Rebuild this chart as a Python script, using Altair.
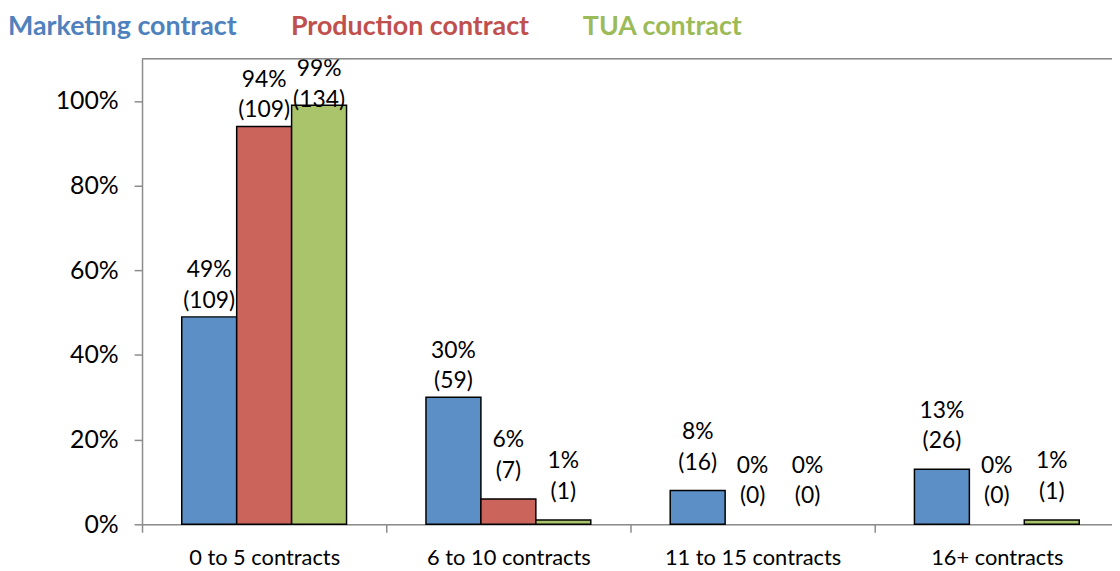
import altair as alt
import pandas as pd

categories = ["0 to 5 contracts", "6 to 10 contracts", "11 to 15 contracts", "16+ contracts"]
series = ["Marketing contract", "Production contract", "TUA contract"]
marketing_pct = [49, 30, 8, 13]
marketing_n = [109, 59, 16, 26]
production_pct = [94, 6, 0, 0]
production_n = [109, 7, 0, 0]
tua_pct = [99, 1, 0, 1]
tua_n = [134, 1, 0, 1]
y_ticks = [0, 0.2, 0.4, 0.6, 0.8, 1.0]

bar_colors = ["#5B8FC6", "#CB655C", "#AAC46C"]
legend_colors = ["#4F81BD", "#C0504D", "#9BBB59"]

rows = []
for s, pcts, ns in zip(series, [marketing_pct, production_pct, tua_pct],
                       [marketing_n, production_n, tua_n]):
    for c, p, n in zip(categories, pcts, ns):
        rows.append({"category": c, "series": s, "pct": p / 100, "n": n})
df = pd.DataFrame(rows)

FONT = "Lato"
AXIS_GRAY = "#8c8c8c"
PLOT_W = 984  # full category extent (right part falls beyond the window)
LINE_H = 31

label_color_expr = (
    f"datum.label == '{series[0]}' ? '{legend_colors[0]}' : "
    f"datum.label == '{series[1]}' ? '{legend_colors[1]}' : '{legend_colors[2]}'"
)

x_enc = alt.X(
    "category:N",
    sort=categories,
    title=None,
    scale=alt.Scale(range=[0, PLOT_W], paddingInner=0, paddingOuter=0),
    axis=alt.Axis(
        labelAngle=0, tickBand="extent", domainColor=AXIS_GRAY, tickColor=AXIS_GRAY,
        domainWidth=1.5, tickWidth=1.5, tickSize=8, labelPadding=15,
        labelFontSize=22, labelColor="black", labelFont=FONT,
    ),
)
xoff_enc = alt.XOffset("series:N", sort=series,
                       scale=alt.Scale(paddingOuter=0.723, paddingInner=0))
y_enc = alt.Y(
    "pct:Q",
    title=None,
    scale=alt.Scale(domain=[0, 1.1], nice=False),
    axis=alt.Axis(
        values=y_ticks, format=".0%", grid=False, domainColor=AXIS_GRAY,
        tickColor=AXIS_GRAY, domainWidth=1.5, tickWidth=1.5, tickSize=8,
        labelPadding=16, labelFontSize=25, labelColor="black", labelFont=FONT,
    ),
)

base = alt.Chart(df)

bars = base.transform_filter("datum.pct > 0").mark_bar(
    stroke="black", strokeWidth=1.5
).encode(
    x=x_enc,
    xOffset=xoff_enc,
    y=y_enc,
    color=alt.Color(
        "series:N",
        sort=series,
        scale=alt.Scale(domain=series, range=bar_colors),
        legend=alt.Legend(
            title=None, orient="none", direction="horizontal",
            legendX=-162, legendY=-46, padding=0,
            symbolSize=0, symbolStrokeWidth=0, symbolOpacity=0,
            labelOffset=0, columnPadding=27,
            labelFontSize=27, labelFontWeight="bold", labelFont=FONT,
            labelColor={"expr": label_color_expr}, labelLimit=0,
        ),
    ),
)


def value_labels(filter_expr, gap):
    return base.transform_filter(filter_expr).transform_calculate(
        label="[format(datum.pct, '.0%'), '(' + datum.n + ')']",
        label_y="min(datum.pct, 0.965)",
    ).mark_text(
        baseline="bottom", fontSize=23, lineHeight=LINE_H, dy=-(LINE_H + gap),
        font=FONT, color="black"
    ).encode(
        x=alt.X("category:N", sort=categories),
        xOffset=alt.XOffset("series:N", sort=series),
        y=alt.Y("label_y:Q"),
        text=alt.Text("label:N"),
    )


labels_tall = value_labels("datum.pct >= 0.2", 4)
labels_short = value_labels("datum.pct < 0.2", 16)

frame_top = alt.Chart(pd.DataFrame({"edge": ["top"]})).mark_rule(
    color=AXIS_GRAY, strokeWidth=1.5
).encode(x=alt.value(0), x2=alt.value(PLOT_W), y=alt.value(0))

chart = alt.layer(bars, labels_tall, labels_short, frame_top).properties(
    width=977,
    height=469,
    autosize=alt.AutoSizeParams(type="none"),
    padding={"left": 135, "top": 49, "right": 0, "bottom": 44},
).configure_view(stroke=None).configure(font=FONT)

chart.save("out.html", embed_options={"renderer": "svg", "actions": False})
